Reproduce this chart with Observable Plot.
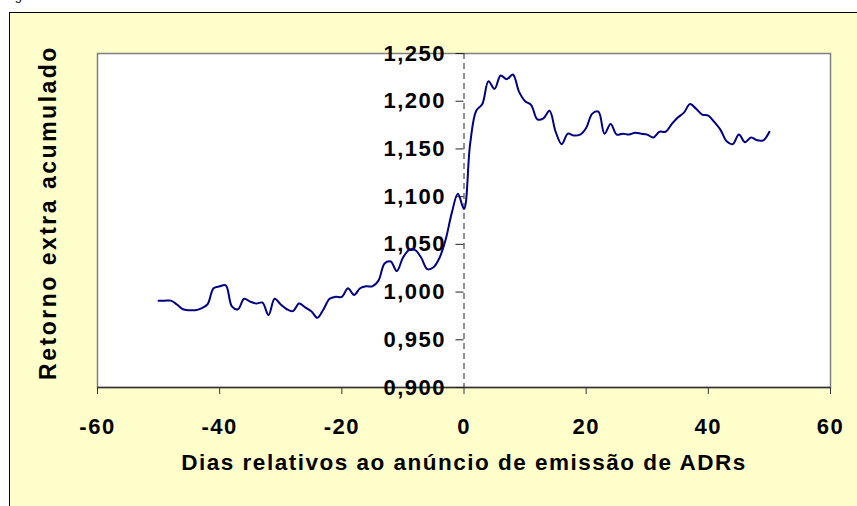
<!DOCTYPE html>
<html>
<head>
<meta charset="utf-8">
<script src="https://cdn.jsdelivr.net/npm/d3@7"></script>
<script src="https://cdn.jsdelivr.net/npm/@observablehq/plot@0.6"></script>
<style>
  html, body { margin: 0; padding: 0; background: #ffffff; width: 857px; height: 506px; overflow: hidden; }
  #fig { position: absolute; left: 4px; top: -12px; font: 13px "Liberation Sans", Arial, sans-serif; color: #000; line-height: 15px; }
  #box { position: absolute; left: 9px; top: 12px; width: 900px; height: 560px; background: #FFFFCC; border: 1px solid #000; }
  #chart { position: absolute; left: 0; top: 0; }
  #chart svg { background: transparent !important; }
  #chart svg text { letter-spacing: 1.5px; }
  #chart svg text[transform*="rotate"] { letter-spacing: 2.5px; }
</style>
</head>
<body>
<div id="fig">Figura</div>
<div id="box"></div>
<div id="chart"></div>
<script>
// Days relative to the announcement
const days = d3.range(-50, 51);
// Cumulative abnormal return
const retorno = [
  0.991, 0.991, 0.991, 0.987, 0.982, 0.981, 0.981, 0.983, 0.987, 1.004,
  1.006, 1.007, 0.985, 0.982, 0.993, 0.990, 0.988, 0.989, 0.976, 0.993,
  0.987, 0.982, 0.980, 0.988, 0.984, 0.980, 0.973, 0.982, 0.993, 0.995,
  0.995, 1.004, 0.997, 1.004, 1.006, 1.006, 1.012, 1.030, 1.032, 1.022,
  1.036, 1.044, 1.044, 1.036, 1.024, 1.026, 1.036, 1.055, 1.083, 1.103,
  1.087,
  1.155, 1.190, 1.197, 1.221, 1.213, 1.227, 1.223, 1.228, 1.210, 1.200,
  1.196, 1.181, 1.182, 1.190, 1.168, 1.155, 1.166, 1.164, 1.165, 1.172,
  1.187, 1.189, 1.166, 1.176, 1.165, 1.166, 1.165, 1.167, 1.166, 1.165,
  1.162, 1.168, 1.168, 1.176, 1.183, 1.188, 1.197, 1.192, 1.186, 1.185,
  1.178, 1.170, 1.158, 1.155, 1.165, 1.157, 1.162, 1.159, 1.159, 1.168
];
const xTicks = [-60, -40, -20, 0, 20, 40, 60];
const yTicks = [0.90, 0.95, 1.00, 1.05, 1.10, 1.15, 1.20, 1.25];
const yTickLabels = ["0,900", "0,950", "1,000", "1,050", "1,100", "1,150", "1,200", "1,250"];
const xTitle = "Dias relativos ao anúncio de emissão de ADRs";
const yTitle = "Retorno extra acumulado";

const data = days.map((d, i) => ({dia: d, valor: retorno[i]}));
const yLabelData = yTicks.map((v, i) => ({v, label: yTickLabels[i]}));

const font = "'Liberation Sans', Arial, sans-serif";

const chart = Plot.plot({
  width: 857,
  height: 506,
  marginLeft: 97,
  marginRight: 27,
  marginTop: 53,
  marginBottom: 119,
  style: {fontFamily: font, background: "transparent", color: "#000"},
  x: {domain: [-60, 60], axis: null},
  y: {domain: [0.9, 1.25], axis: null},
  marks: [
    Plot.frame({fill: "white", stroke: "#808080", strokeWidth: 1.5}),
    // x axis line and ticks
    Plot.ruleY([0.9], {stroke: "#333", strokeWidth: 1.5}),
    Plot.ruleX(xTicks, {x: d => d, y1: 0.9, y2: 0.9, insetBottom: -7, stroke: "#333", strokeWidth: 1}),
    // dashed y axis at x = 0 with outward ticks
    Plot.ruleX([0], {stroke: "#222", strokeWidth: 1, strokeDasharray: "6,4"}),
    Plot.ruleY(yTicks, {y: d => d, x1: 0, x2: 0, insetLeft: -8, stroke: "#222", strokeWidth: 1}),
    // tick labels
    Plot.text(xTicks, {x: d => d, y: 0.9, dy: 39, text: d => String(d), fontSize: 22, fontWeight: "bold", fill: "#000"}),
    Plot.text(yLabelData, {x: 0, y: "v", dx: -18, text: "label", textAnchor: "end", fontSize: 22, fontWeight: "bold", fill: "#000"}),
    // axis titles
    Plot.text([xTitle], {frameAnchor: "bottom", dy: 82, text: d => d, fontSize: 22.5, fontWeight: "bold", fill: "#000"}),
    Plot.text([yTitle], {frameAnchor: "left", textAnchor: "middle", dx: -49, dy: -8, rotate: -90, text: d => d, fontSize: 23, fontWeight: "bold", fill: "#000"}),
    // series
    Plot.line(data, {x: "dia", y: "valor", stroke: "#000080", strokeWidth: 2, curve: "catmull-rom"})
  ]
});
document.getElementById("chart").appendChild(chart);
</script>
</body>
</html>
